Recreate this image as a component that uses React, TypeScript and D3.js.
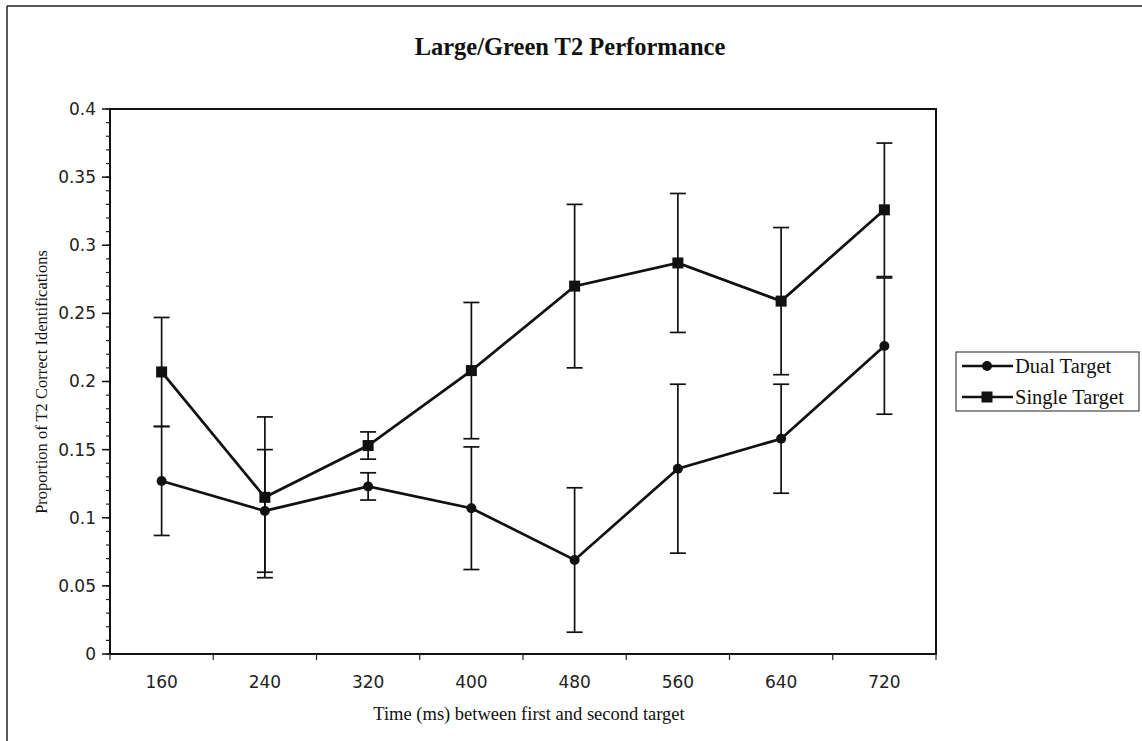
import React from 'react';
import * as d3 from 'd3';

const categories = ['160', '240', '320', '400', '480', '560', '640', '720'];
const dualValues = [0.127, 0.105, 0.123, 0.107, 0.069, 0.136, 0.158, 0.226];
const dualErrors = [0.040, 0.045, 0.010, 0.045, 0.053, 0.062, 0.040, 0.050];
const singleValues = [0.207, 0.115, 0.153, 0.208, 0.270, 0.287, 0.259, 0.326];
const singleErrors = [0.040, 0.059, 0.010, 0.050, 0.060, 0.051, 0.054, 0.049];
const yTicks = [0, 0.05, 0.1, 0.15, 0.2, 0.25, 0.3, 0.35, 0.4];
const yTickLabels = ['0', '0.05', '0.1', '0.15', '0.2', '0.25', '0.3', '0.35', '0.4'];
const seriesNames = ['Dual Target', 'Single Target'];

const W = 1142;
const H = 741;
const left = 110;
const right = 936;
const top = 109;
const bottom = 654;

export default function App() {
  const x = d3.scaleBand<string>().domain(categories).range([left, right]).padding(0);
  const y = d3.scaleLinear().domain([0, 0.4]).range([bottom, top]);
  const cx = (c: string) => (x(c) as number) + x.bandwidth() / 2;
  const line = d3.line<number>().x((_, i) => cx(categories[i])).y((v) => y(v));
  const minor = d3.range(0, 0.4001, 0.01);
  const tickFont = '"DejaVu Sans", "Liberation Sans", sans-serif';
  const serif = '"Liberation Serif", "Times New Roman", serif';

  const errBars = (vals: number[], errs: number[], key: string) =>
    vals.map((v, i) => {
      const px = cx(categories[i]);
      const y1 = y(v + errs[i]);
      const y2 = y(v - errs[i]);
      return (
        <g key={key + i} stroke="#111" strokeWidth={1.7}>
          <line x1={px} x2={px} y1={y1} y2={y2} />
          <line x1={px - 8} x2={px + 8} y1={y1} y2={y1} />
          <line x1={px - 8} x2={px + 8} y1={y2} y2={y2} />
        </g>
      );
    });

  return (
    <svg width={W} height={H} style={{ position: 'absolute', left: 0, top: 0, background: '#fff' }}>
      <rect x={0} y={0} width={W} height={H} fill="#fff" />
      {/* outer border */}
      <line x1={7} x2={7} y1={6} y2={H} stroke="#222" strokeWidth={1.5} />
      <line x1={7} x2={W} y1={6} y2={6} stroke="#222" strokeWidth={1.5} />

      <text x={570} y={55} textAnchor="middle" fontFamily={serif} fontWeight="bold" fontSize={24.5} fill="#111">
        Large/Green T2 Performance
      </text>

      {/* plot frame */}
      <rect x={left} y={top} width={right - left} height={bottom - top} fill="none" stroke="#111" strokeWidth={2} />

      {/* y ticks */}
      {minor.map((t, i) => (
        <line key={'m' + i} x1={left - 4} x2={left} y1={y(t)} y2={y(t)} stroke="#222" strokeWidth={1.2} />
      ))}
      {yTicks.map((t, i) => (
        <g key={'y' + i}>
          <line x1={left - 8} x2={left} y1={y(t)} y2={y(t)} stroke="#111" strokeWidth={1.5} />
          <text x={left - 14} y={y(t)} dy="0.35em" textAnchor="end" fontFamily={tickFont} fontSize={17} fill="#222">
            {yTickLabels[i]}
          </text>
        </g>
      ))}

      {/* x ticks */}
      {categories.map((c, i) => (
        <line key={'xt' + i} x1={x(c) as number} x2={x(c) as number} y1={bottom} y2={bottom + 6} stroke="#222" strokeWidth={1.2} />
      ))}
      <line x1={right} x2={right} y1={bottom} y2={bottom + 6} stroke="#222" strokeWidth={1.2} />
      {categories.map((c, i) => (
        <text key={'xl' + i} x={cx(c)} y={688} textAnchor="middle" fontFamily={tickFont} fontSize={17} fill="#222">
          {c}
        </text>
      ))}

      <text x={529} y={720} textAnchor="middle" fontFamily={serif} fontSize={18.5} fill="#111">
        Time (ms) between first and second target
      </text>
      <text transform={`translate(47, 382) rotate(-90)`} textAnchor="middle" fontFamily={serif} fontSize={16.5} fill="#111">
        Proportion of T2 Correct Identifications
      </text>

      {/* error bars */}
      {errBars(dualValues, dualErrors, 'de')}
      {errBars(singleValues, singleErrors, 'se')}

      {/* lines */}
      <path d={line(dualValues) as string} fill="none" stroke="#111" strokeWidth={2.7} />
      <path d={line(singleValues) as string} fill="none" stroke="#111" strokeWidth={2.7} />

      {dualValues.map((v, i) => (
        <circle key={'dc' + i} cx={cx(categories[i])} cy={y(v)} r={5} fill="#111" />
      ))}
      {singleValues.map((v, i) => (
        <rect key={'sq' + i} x={cx(categories[i]) - 5.5} y={y(v) - 5.5} width={11} height={11} fill="#111" />
      ))}

      {/* legend */}
      <rect x={956} y={352} width={183} height={59} fill="#fff" stroke="#444" strokeWidth={1.2} />
      <line x1={962} x2={1013} y1={366} y2={366} stroke="#111" strokeWidth={2.4} />
      <circle cx={987} cy={366} r={5} fill="#111" />
      <text x={1015} y={366} dy="0.35em" fontFamily={serif} fontSize={20.5} fill="#111">
        {seriesNames[0]}
      </text>
      <line x1={962} x2={1013} y1={397} y2={397} stroke="#111" strokeWidth={2.4} />
      <rect x={981.5} y={391.5} width={11} height={11} fill="#111" />
      <text x={1015} y={397} dy="0.35em" fontFamily={serif} fontSize={20.5} fill="#111">
        {seriesNames[1]}
      </text>
    </svg>
  );
}
